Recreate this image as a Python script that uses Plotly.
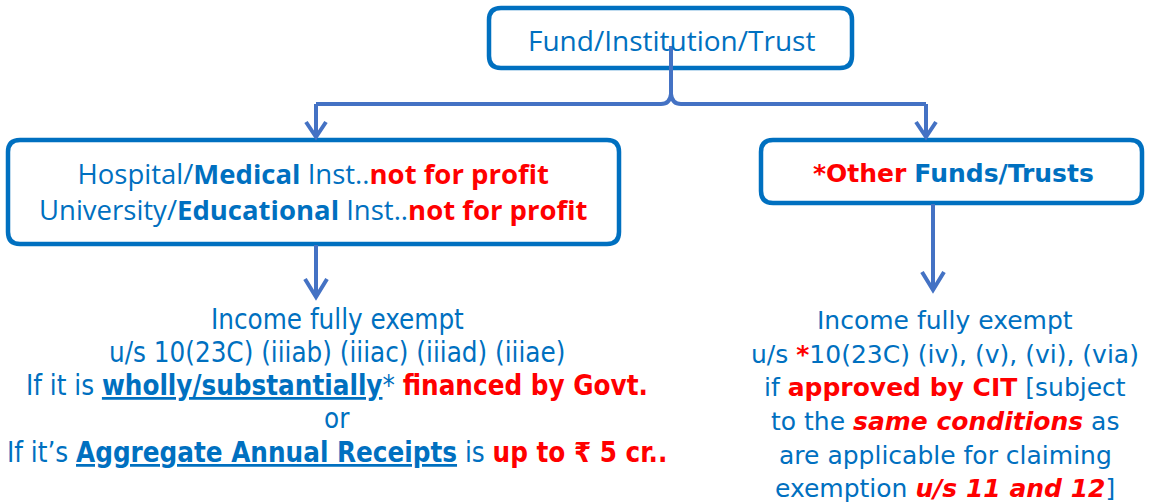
import plotly.graph_objects as go

BLUE = "#0070C0"
RED = "#FF0000"
LINE = "#4472C4"

def r(t):
    return f"<span style='color:{RED}'><b>{t}</b></span>"

# Node texts
top_label = ["Fund/Institution/Trust"]
left_box_lines = [
    "Hospital/<b>Medical</b> Inst.." + r("not for profit"),
    "University/<b>Educational</b> Inst.." + r("not for profit"),
]
right_box_lines = [r("*Other") + " <b>Funds/Trusts</b>"]
left_lines = [
    "Income fully exempt",
    "u/s 10(23C) (iiiab) (iiiac) (iiiad) (iiiae)",
    "If it is <b><u>wholly/substantially</u></b>* " + r("financed by Govt."),
    "or",
    "If it’s <b><u>Aggregate Annual Receipts</u></b> is " + r("up to ₹ 5 cr.."),
]
right_lines = [
    "Income fully exempt",
    "u/s " + r("*") + "10(23C) (iv), (v), (vi), (via)",
    "if " + r("approved by CIT") + " [subject",
    "to the " + r("<i>same conditions</i>") + " as",
    "are applicable for claiming",
    "exemption " + r("<i>u/s 11 and 12</i>") + "]",
]

# Layout geometry (pixel space)
boxes = {  # x0, y0, x1, y1
    "top": (489, 8, 852, 68),
    "left": (8, 140, 619, 244),
    "right": (761, 140, 1142, 203),
}
left_line_y = [319, 352, 385, 418, 452]
right_line_y = [320, 354, 387, 421, 455, 488]

fig = go.Figure()

def rounded(x0, y0, x1, y1, rad=12):
    return (f"M{x0+rad},{y0} L{x1-rad},{y0} Q{x1},{y0} {x1},{y0+rad} "
            f"L{x1},{y1-rad} Q{x1},{y1} {x1-rad},{y1} L{x0+rad},{y1} "
            f"Q{x0},{y1} {x0},{y1-rad} L{x0},{y0+rad} Q{x0},{y0} {x0+rad},{y0} Z")

shapes = []
for k, (x0, y0, x1, y1) in boxes.items():
    shapes.append(dict(type="path", path=rounded(x0, y0, x1, y1),
                       line=dict(color=BLUE, width=4.5), fillcolor="white", layer="below"))

# connectors
cx = 671
bl, br = 316, 926
by = 104
shapes.append(dict(type="path", path=f"M{cx},46 L{cx},94", line=dict(color=LINE, width=4)))
shapes.append(dict(type="path",
                   path=f"M{bl},{by} L{cx-10},{by} Q{cx-1},{by} {cx},{by-10} Q{cx+1},{by} {cx+10},{by} L{br},{by}",
                   line=dict(color=LINE, width=4)))

def arrow(x, y0, y1, hw=10, hh=15):
    shapes.append(dict(type="path", path=f"M{x},{y0} L{x},{y1-1}", line=dict(color=LINE, width=4)))
    shapes.append(dict(type="path", path=f"M{x-hw},{y1-hh} L{x},{y1} L{x+hw},{y1-hh}",
                       line=dict(color=LINE, width=4)))

arrow(bl, by, 137)
arrow(br, by, 137)
arrow(316, 245, 297, hw=11, hh=18)
arrow(933, 204, 290, hw=11, hh=18)

annotations = []
def txt(x, y, s, size, family):
    annotations.append(dict(x=x, y=y, xref="x", yref="y", text=s, showarrow=False,
                            xanchor="center", yanchor="middle",
                            font=dict(size=size, color=BLUE, family=family)))

txt(671, 40, top_label[0], 28, "Open Sans")
txt(313, 191, "<br>".join(left_box_lines), 27.5, "Open Sans")
txt(953, 173, right_box_lines[0], 25, "DejaVu Sans")
for s, y in zip(left_lines, left_line_y):
    txt(337, y, s, 27.5, "DejaVu Sans Condensed, Open Sans")
for s, y in zip(right_lines, right_line_y):
    txt(945, y, s, 25, "DejaVu Sans")

fig.update_layout(
    width=1149, height=502, margin=dict(l=0, r=0, t=0, b=0),
    plot_bgcolor="white", paper_bgcolor="white",
    xaxis=dict(range=[0, 1149], visible=False, fixedrange=True),
    yaxis=dict(range=[502, 0], visible=False, fixedrange=True),
    shapes=shapes, annotations=annotations, showlegend=False,
)
fig.write_html("out.html", config={"displayModeBar": False},
               post_script="document.body.style.margin='0';document.body.style.overflow='hidden';")
